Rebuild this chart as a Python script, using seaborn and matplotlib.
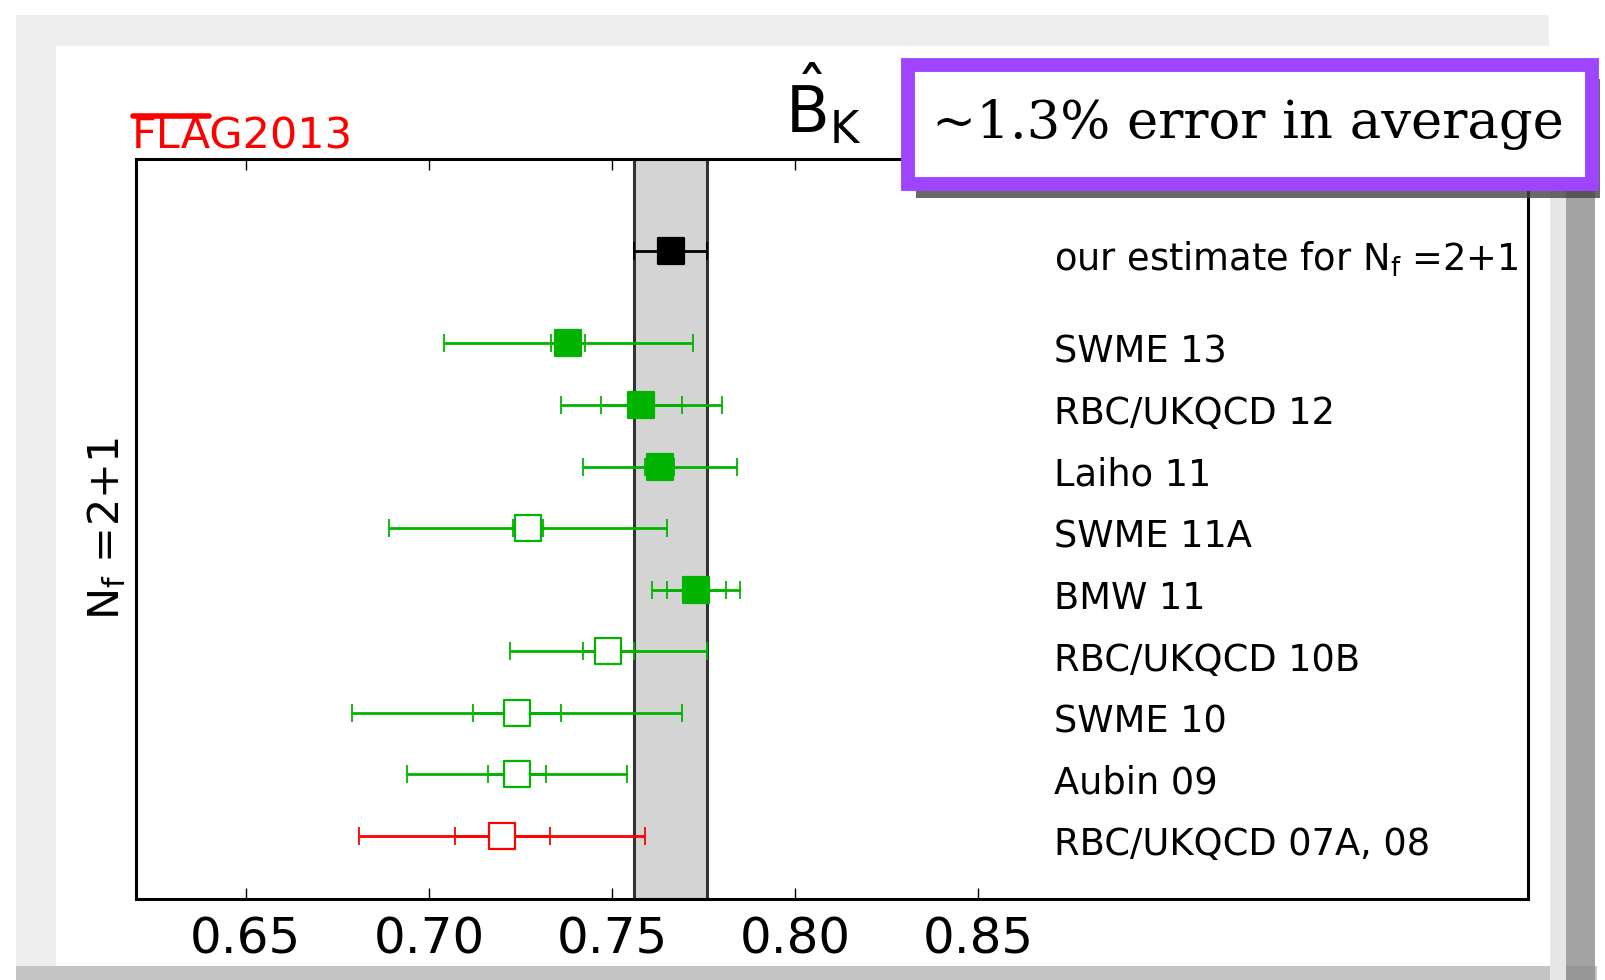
import numpy as np
import pandas as pd
import matplotlib
matplotlib.use("Agg")
import matplotlib.pyplot as plt
import seaborn as sns
from matplotlib.patches import Rectangle
import matplotlib.patheffects as pe
from matplotlib.lines import Line2D

# ---------------- data ----------------
labels = ["our estimate for $\\mathrm{N_f}$ =2+1", "SWME 13", "RBC/UKQCD 12", "Laiho 11",
          "SWME 11A", "BMW 11", "RBC/UKQCD 10B", "SWME 10", "Aubin 09",
          "RBC/UKQCD 07A, 08"]
values = [0.766, 0.738, 0.758, 0.763, 0.727, 0.773, 0.749, 0.724, 0.724, 0.720]
stat_err = [0.0, 0.0047, 0.011, 0.004, 0.004, 0.008, 0.007, 0.012, 0.008, 0.013]
total_err = [0.010, 0.034, 0.022, 0.021, 0.038, 0.012, 0.027, 0.045, 0.030, 0.039]
group = ["average", "green", "green", "green", "green", "green", "green", "green", "green", "red"]
filled = [True, True, True, True, False, True, False, False, False, False]
band_value = 0.766
band_err = 0.010
xticks = [0.65, 0.70, 0.75, 0.80, 0.85]

# ---------------- style ----------------
sns.set_theme(style="white")
plt.rcParams["font.family"] = ["DejaVu Sans"]
plt.rcParams["mathtext.fontset"] = "dejavusans"
plt.rcParams["text.color"] = "black"
plt.rcParams["axes.labelcolor"] = "black"
plt.rcParams["xtick.color"] = "black"

colors = {"average": "#000000", "green": "#00b400", "red": "#ff0000"}

n = len(labels)
ypos = [n + 0.5 if g == "average" else n - i for i, g in enumerate(group)]
df = pd.DataFrame({"label": labels, "value": values, "stat": stat_err,
                   "total": total_err, "group": group, "filled": filled, "y": ypos})

fig = plt.figure(figsize=(16.05, 9.8), dpi=100)
fig.patch.set_facecolor("white")

# torn-paper like edges
for (x0, y0, w, h, c, a) in [
        (0.010, 0.000, 0.025, 0.985, "#eeeeee", 1.0),   # left
        (0.010, 0.953, 0.955, 0.032, "#eeeeee", 1.0),   # top
        (0.010, 0.000, 0.985, 0.014, "#c4c4c4", 1.0),   # bottom
        (0.966, 0.000, 0.010, 0.810, "#e6e6e6", 1.0),   # right light rim
        (0.976, 0.000, 0.018, 0.810, "#8c8c8c", 0.8),   # right shadow
]:
    fig.patches.append(Rectangle((x0, y0), w, h, transform=fig.transFigure,
                                 facecolor=c, edgecolor="none", alpha=a, zorder=-5))

ax = fig.add_axes([0.0847, 0.0827, 0.8673, 0.7551])
ax.set_facecolor("white")

# band of the average
ax.axvspan(band_value - band_err, band_value + band_err, facecolor="#d4d4d4",
           edgecolor="#333333", lw=2.2, zorder=0)

# error bars
for _, r in df.iterrows():
    c = colors[r["group"]]
    ax.errorbar(r["value"], r["y"], xerr=r["total"], fmt="none", ecolor=c,
                elinewidth=2.0, capsize=6.5, capthick=1.3, zorder=2)
    if r["stat"] > 0:
        ax.errorbar(r["value"], r["y"], xerr=r["stat"], fmt="none", ecolor=c,
                    elinewidth=2.0, capsize=6.5, capthick=1.3, zorder=2)

# markers via seaborn
for (g, f), sub in df.groupby(["group", "filled"]):
    c = colors[g]
    sns.scatterplot(data=sub, x="value", y="y", ax=ax, marker="s", s=340,
                    color=c if f else "white", edgecolor=c, linewidth=1.6,
                    zorder=3, legend=False)

# labels on the right
for _, r in df.iterrows():
    ax.annotate(r["label"], (0.8705, r["y"]), xytext=(0, -14), textcoords="offset points",
                fontsize=26.5, va="baseline", ha="left", color="black")

ax.set_xlim(0.62, 1.0)
ax.set_ylim(-0.03, 12.0)
ax.set_xticks(xticks)
ax.set_xticklabels([f"{t:.2f}" for t in xticks], fontsize=36)
ax.set_yticks([])
ax.tick_params(axis="x", direction="in", length=8, width=1, top=True, bottom=True,
               pad=12, color="black")
for s in ax.spines.values():
    s.set_color("black")
    s.set_linewidth(2.2)
ax.set_xlabel("")
ax.set_ylabel("$\\mathrm{N_f}$ =2+1", fontsize=31, labelpad=6)

# title and FLAG logo
fig.text(0.513, 0.864, "$\\hat{\\mathrm{B}}_\\mathrm{K}$", fontsize=46, ha="center",
         va="baseline")
fig.text(0.082, 0.848, "FLAG2013", fontsize=31, color="red", ha="left",
         va="baseline")
fig.lines.append(Line2D([0.083, 0.130], [0.882, 0.882], transform=fig.transFigure,
                        color="red", lw=4))

# purple annotation box
box = Rectangle((0.5655, 0.812), 0.4265, 0.122, transform=fig.transFigure,
                facecolor="white", edgecolor="#a045ff", lw=10, zorder=5,
                path_effects=[pe.SimplePatchShadow(offset=(6, -10), shadow_rgbFace="#444444",
                                                   alpha=0.8), pe.Normal()])
fig.patches.append(box)
fig.text(0.7775, 0.873, "~1.3% error in average", fontsize=38, family="DejaVu Serif",
         ha="center", va="center", zorder=6, color="black")

fig.savefig("out.png", dpi=100, facecolor="white")
